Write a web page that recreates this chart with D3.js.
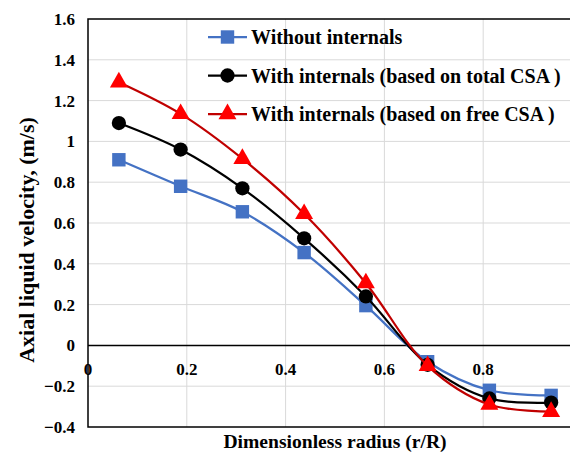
<!DOCTYPE html>
<html>
<head>
<meta charset="utf-8">
<script src="https://cdn.jsdelivr.net/npm/d3@7"></script>
<style>
  body { margin: 0; background: #fff; }
  svg { display: block; }
  text { font-family: "Liberation Serif", "Times New Roman", serif; font-weight: bold; fill: #000; }
</style>
</head>
<body>
<div id="chart"></div>
<script>
// data
var radius = [0.0625, 0.1875, 0.3125, 0.4375, 0.5625, 0.6875, 0.8125, 0.9375];
var withoutInternals = [0.91, 0.78, 0.655, 0.455, 0.195, -0.08, -0.22, -0.245];
var totalCSA = [1.09, 0.96, 0.77, 0.525, 0.24, -0.095, -0.26, -0.28];
var freeCSA = [1.29, 1.135, 0.915, 0.645, 0.305, -0.1, -0.29, -0.325];
var seriesNames = ['Without internals', 'With internals (based on total CSA )', 'With internals (based on free CSA )'];
var xTicks = [0, 0.2, 0.4, 0.6, 0.8];
var yTicks = [-0.4, -0.2, 0, 0.2, 0.4, 0.6, 0.8, 1, 1.2, 1.4, 1.6];

var width = 570;
var height = 452;
var plotLeft = 88, plotTop = 19, plotBottom = 427, plotRight = 582;

var svg = d3.select('#chart')
    .append('svg')
    .attr('width', width)
    .attr('height', height);

var x = d3.scaleLinear().domain([0, 1]).range([plotLeft, plotRight]);
var y = d3.scaleLinear().domain([-0.4, 1.6]).range([plotBottom, plotTop]);

// grid
svg.append('g').selectAll('line')
    .data(yTicks.filter(function(d) { return d !== 0 && d !== -0.4 && d !== 1.6; }))
    .enter().append('line')
    .attr('x1', plotLeft).attr('x2', plotRight)
    .attr('y1', function(d) { return y(d); })
    .attr('y2', function(d) { return y(d); })
    .attr('stroke', '#d9d9d9').attr('stroke-width', 1);

svg.append('g').selectAll('line')
    .data([0.2, 0.4, 0.6, 0.8])
    .enter().append('line')
    .attr('y1', plotTop).attr('y2', plotBottom)
    .attr('x1', function(d) { return x(d); })
    .attr('x2', function(d) { return x(d); })
    .attr('stroke', '#d9d9d9').attr('stroke-width', 1);

// plot border
svg.append('rect')
    .attr('x', plotLeft).attr('y', plotTop)
    .attr('width', plotRight - plotLeft).attr('height', plotBottom - plotTop)
    .attr('fill', 'none').attr('stroke', '#000').attr('stroke-width', 1.5);

// zero line
svg.append('line')
    .attr('x1', plotLeft).attr('x2', plotRight)
    .attr('y1', y(0)).attr('y2', y(0))
    .attr('stroke', '#000').attr('stroke-width', 1.5);

// y tick labels
svg.append('g').selectAll('text')
    .data(yTicks)
    .enter().append('text')
    .attr('x', 75)
    .attr('y', function(d) { return y(d); })
    .attr('dy', '0.35em')
    .attr('text-anchor', 'end')
    .style('font-size', '17px')
    .text(function(d) { return d3.format('')(+d.toFixed(1)); });

// x tick labels (next to zero line)
svg.append('g').selectAll('text')
    .data(xTicks)
    .enter().append('text')
    .attr('x', function(d) { return x(d); })
    .attr('y', y(0) + 30)
    .attr('text-anchor', 'middle')
    .style('font-size', '17px')
    .text(function(d) { return d3.format('')(d); });

// axis titles
svg.append('text')
    .attr('x', 335).attr('y', 448)
    .attr('text-anchor', 'middle')
    .style('font-size', '19.6px')
    .text('Dimensionless radius (r/R)');

svg.append('text')
    .attr('transform', 'translate(34,240) rotate(-90)')
    .attr('text-anchor', 'middle')
    .style('font-size', '22px')
    .text('Axial liquid velocity, (m/s)');

var series = [
  { name: seriesNames[0], values: withoutInternals, line: '#4472C4', marker: '#4472C4', shape: d3.symbolSquare, size: 180 },
  { name: seriesNames[1], values: totalCSA, line: '#000000', marker: '#000000', shape: d3.symbolCircle, size: 160 },
  { name: seriesNames[2], values: freeCSA, line: '#C00000', marker: '#FF0000', shape: d3.symbolTriangle, size: 140 }
];

var line = d3.line()
    .x(function(d) { return x(d[0]); })
    .y(function(d) { return y(d[1]); })
    .curve(d3.curveCatmullRom.alpha(0.5));

series.forEach(function(s) {
  var pts = radius.map(function(r, i) { return [r, s.values[i]]; });
  svg.append('path')
      .datum(pts)
      .attr('d', line)
      .attr('fill', 'none')
      .attr('stroke', s.line)
      .attr('stroke-width', 2.25);
  svg.append('g').selectAll('path')
      .data(pts)
      .enter().append('path')
      .attr('d', d3.symbol().type(s.shape).size(s.size))
      .attr('transform', function(d) { return 'translate(' + x(d[0]) + ',' + y(d[1]) + ')'; })
      .attr('fill', s.marker);
});

// legend
var legend = svg.selectAll('.legend')
    .data(series)
    .enter().append('g')
    .attr('class', 'legend')
    .attr('transform', function(d, i) { return 'translate(208,' + (37 + i * 38.5) + ')'; });

legend.append('line')
    .attr('x1', 0).attr('x2', 39)
    .attr('stroke', function(d) { return d.line; })
    .attr('stroke-width', 2.25);

legend.append('path')
    .attr('d', function(d) { return d3.symbol().type(d.shape).size(d.size)(); })
    .attr('transform', 'translate(19.5,0)')
    .attr('fill', function(d) { return d.marker; });

legend.append('text')
    .attr('x', 43)
    .attr('dy', '0.35em')
    .style('font-size', '20px')
    .text(function(d) { return d.name; });
</script>
</body>
</html>
